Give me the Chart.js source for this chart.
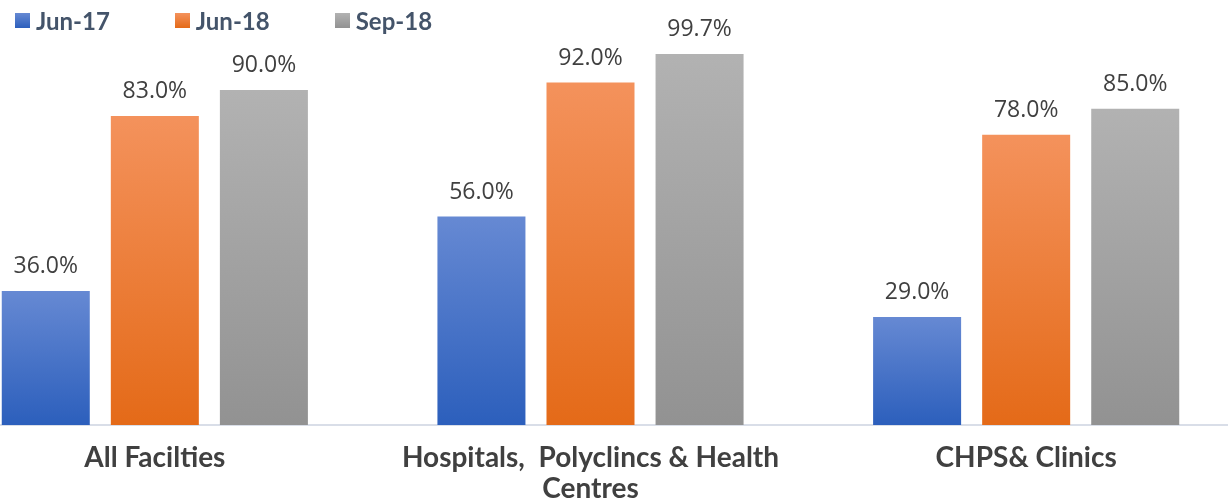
<!DOCTYPE html>
<html>
<head>
<meta charset="utf-8">
<script src="https://cdn.jsdelivr.net/npm/chart.js@4/dist/chart.umd.min.js"></script>
<style>
  html, body { margin: 0; padding: 0; background: #fff; overflow: hidden; width: 1228px; height: 502px; }
  #wrap { position: absolute; left: -63px; top: 0; width: 1307px; height: 502px; }
  #legend { position: absolute; left: 15px; top: 6px; display: flex; gap: 65px; font-family: Lato, sans-serif; font-weight: bold; font-size: 24px; color: #44546A; z-index: 2; }
  .item { display: flex; align-items: center; gap: 6px; }
  .sw { width: 15px; height: 15px; display: inline-block; }
</style>
</head>
<body>
<div id="legend"></div>
<div id="wrap"><canvas id="c"></canvas></div>
<script>
const categories = ['All Facilties', ['Hospitals,  Polyclincs & Health', 'Centres'], 'CHPS& Clinics'];
const seriesNames = ['Jun-17', 'Jun-18', 'Sep-18'];
const jun17 = [36.0, 56.0, 29.0];
const jun18 = [83.0, 92.0, 78.0];
const sep18 = [90.0, 99.7, 85.0];

const palette = [
  { top: '#6689D3', bottom: '#2C5FBC', swatch: '#3A69C2' },
  { top: '#F4925C', bottom: '#E46A18', swatch: '#EE7A2F' },
  { top: '#B2B2B2', bottom: '#929292', swatch: '#A0A0A0' }
];

function gradientFor(i) {
  return (ctx) => {
    const chart = ctx.chart;
    const area = chart.chartArea;
    if (!area || ctx.type !== 'data' || !chart.scales.y) return palette[i].swatch;
    const top = chart.scales.y.getPixelForValue(ctx.raw);
    const bottom = chart.scales.y.getPixelForValue(0);
    if (!isFinite(top) || !isFinite(bottom) || top === bottom) return palette[i].swatch;
    const g = chart.ctx.createLinearGradient(0, top, 0, bottom);
    g.addColorStop(0, palette[i].top);
    g.addColorStop(1, palette[i].bottom);
    return g;
  };
}

// HTML legend
const legendEl = document.getElementById('legend');
seriesNames.forEach((n, i) => {
  const it = document.createElement('div');
  it.className = 'item';
  const sw = document.createElement('span');
  sw.className = 'sw';
  sw.style.background = 'linear-gradient(' + palette[i].top + ',' + palette[i].bottom + ')';
  const t = document.createElement('span');
  t.textContent = n;
  it.appendChild(sw); it.appendChild(t);
  legendEl.appendChild(it);
});

const valueLabels = {
  id: 'valueLabels',
  afterDatasetsDraw(chart) {
    const c = chart.ctx;
    c.save();
    c.font = '23px "Open Sans", sans-serif';
    c.fillStyle = '#404040';
    c.textAlign = 'center';
    c.textBaseline = 'alphabetic';
    chart.data.datasets.forEach((ds, di) => {
      const meta = chart.getDatasetMeta(di);
      meta.data.forEach((bar, j) => {
        c.fillText(ds.data[j].toFixed(1) + '%', bar.x, bar.y - 18);
      });
    });
    c.restore();
  }
};

new Chart(document.getElementById('c'), {
  type: 'bar',
  data: {
    labels: categories,
    datasets: [
      { label: seriesNames[0], data: jun17, backgroundColor: gradientFor(0) },
      { label: seriesNames[1], data: jun18, backgroundColor: gradientFor(1) },
      { label: seriesNames[2], data: sep18, backgroundColor: gradientFor(2) }
    ]
  },
  options: {
    responsive: true,
    maintainAspectRatio: false,
    animation: false,
    layout: { padding: { top: 52.8, left: 0, right: 0, bottom: 0 } },
    datasets: { bar: { categoryPercentage: 0.751, barPercentage: 0.807, borderWidth: 0 } },
    plugins: { legend: { display: false }, tooltip: { enabled: false } },
    scales: {
      x: {
        grid: { display: false, drawTicks: false },
        border: { display: true, color: '#D9DEE8', width: 2 },
        ticks: { color: '#404040', padding: 17.5, font: { family: 'Lato', weight: 'bold', size: 28, lineHeight: 1.107 } },
        afterFit: (s) => { s.height = 77; }
      },
      y: { display: false, min: 0, max: 100 }
    }
  },
  plugins: [valueLabels]
});
</script>
</body>
</html>
